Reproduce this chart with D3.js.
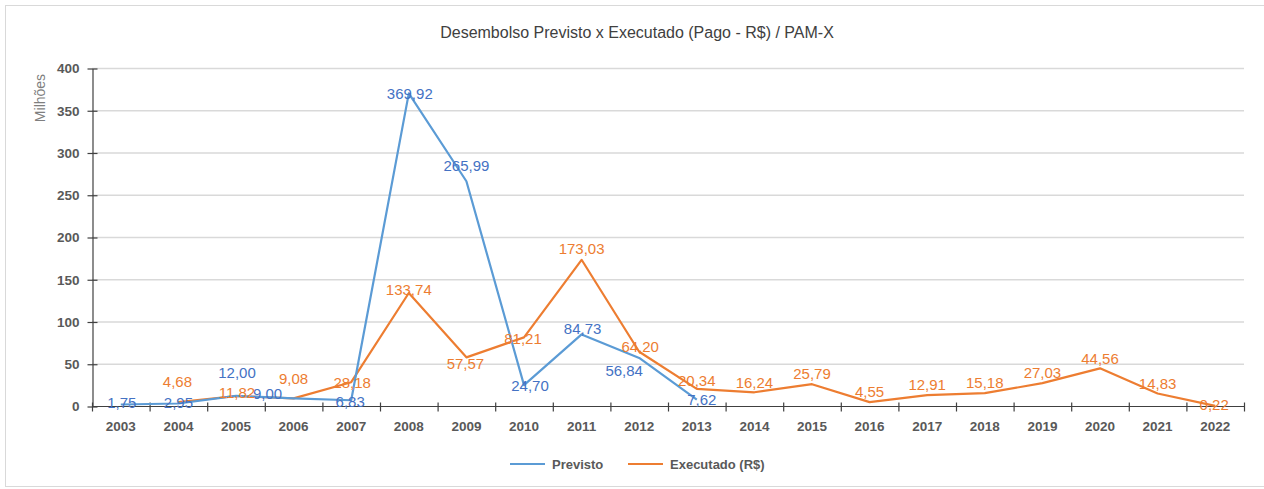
<!DOCTYPE html>
<html>
<head>
<meta charset="utf-8">
<script src="https://cdn.jsdelivr.net/npm/d3@7"></script>
<style>
  body { margin: 0; background: #fff; }
  svg { display: block; }
</style>
</head>
<body>
<svg></svg>
<script>
const years = ["2003","2004","2005","2006","2007","2008","2009","2010","2011","2012",
               "2013","2014","2015","2016","2017","2018","2019","2020","2021","2022"];
const previsto = [1.75, 2.95, 12.00, 9.00, 6.83, 369.92, 265.99, 24.70, 84.73, 56.84,
                  7.62, null, null, null, null, null, null, null, null, null];
const executado = [null, 4.68, 11.82, 9.08, 28.18, 133.74, 57.57, 81.21, 173.03, 64.20,
                   20.34, 16.24, 25.79, 4.55, 12.91, 15.18, 27.03, 44.56, 14.83, 0.22];
const yTicks = [0, 50, 100, 150, 200, 250, 300, 350, 400];
const seriesNames = ["Previsto", "Executado (R$)"];

// label nudges (dx, dy) from each point, the way they sit in the original
const previstoNudge = {
  "2003": [1, -2], "2004": [0, -1], "2005": [1, -23], "2006": [-26, -5], "2007": [-1, 2],
  "2008": [1, 0], "2009": [0, -15], "2010": [6, 1], "2011": [1, -6], "2012": [-15, 13], "2013": [5, 0]
};
const executadoNudge = {
  "2004": [-1, -20], "2005": [1, -3], "2006": [0, -20], "2007": [1, 1], "2008": [0, -3],
  "2009": [-1, 6], "2010": [-1, 1], "2011": [0, -11], "2012": [1, -5], "2013": [0, -8],
  "2022": [-1, -1]
};

const width = 1264, height = 489;
const plotLeft = 92, plotRight = 1244, plotTop = 68, plotBottom = 406;
const blue = "#5b9bd5", blueText = "#4472c4", orange = "#ed7d31";
const font = "'Liberation Sans', Arial, sans-serif";

const svg = d3.select("svg").attr("width", width).attr("height", height);

// chart frame
svg.append("rect")
  .attr("x", 5.5).attr("y", 5.5)
  .attr("width", width + 10).attr("height", 481)
  .attr("fill", "#fff")
  .attr("stroke", "#d9d9d9");

const xScale = d3.scaleBand().domain(years).range([plotLeft, plotRight]);
const yScale = d3.scaleLinear().domain([0, 400]).range([plotBottom, plotTop]);
const cx = d => xScale(d) + xScale.bandwidth() / 2;

// gridlines
svg.append("g")
  .selectAll("line")
  .data(yTicks.filter(t => t > 0))
  .enter()
  .append("line")
    .attr("x1", plotLeft).attr("x2", plotRight)
    .attr("y1", d => yScale(d) + 0.5).attr("y2", d => yScale(d) + 0.5)
    .attr("stroke", "#d9d9d9")
    .attr("stroke-width", 1.3);

// y axis
const yAxis = d3.axisLeft(yScale).tickValues(yTicks).tickSize(5).tickSizeOuter(0).tickPadding(9);
const gy = svg.append("g").attr("transform", `translate(${plotLeft + 0.5}, 0.5)`).call(yAxis);
gy.select(".domain").attr("stroke", "#404040").attr("stroke-width", 1.2);
gy.selectAll(".tick line").attr("stroke", "#404040").attr("x2", 5).attr("x1", -5).attr("stroke-width", 1.2);
gy.selectAll(".tick text")
  .attr("x", -13)
  .style("font-family", font).style("font-size", "13.5px").style("font-weight", "bold")
  .attr("fill", "#595959");

// x axis: ticks on the band boundaries, crossing the line
const gx = svg.append("g").attr("transform", `translate(0, ${plotBottom + 0.5})`);
gx.append("line").attr("x1", plotLeft).attr("x2", plotRight + 0.5).attr("stroke", "#404040").attr("stroke-width", 1.2);
gx.selectAll(".bt")
  .data(years.concat(["end"]))
  .enter()
  .append("line")
    .attr("class", "bt")
    .attr("x1", (d, i) => (i < years.length ? xScale(d) : plotRight) + 0.5)
    .attr("x2", (d, i) => (i < years.length ? xScale(d) : plotRight) + 0.5)
    .attr("y1", -4).attr("y2", 5)
    .attr("stroke", "#404040").attr("stroke-width", 1.2);
gx.selectAll(".xl")
  .data(years)
  .enter()
  .append("text")
    .attr("x", d => cx(d))
    .attr("y", 24)
    .style("text-anchor", "middle")
    .style("font-family", font).style("font-size", "13.5px").style("font-weight", "bold")
    .attr("fill", "#595959")
    .text(d => d);

// axis label
svg.append("text")
  .attr("transform", "rotate(-90)")
  .attr("x", -98).attr("y", 45)
  .style("text-anchor", "middle")
  .style("font-family", font).style("font-size", "14px")
  .attr("fill", "#7f7f7f")
  .text("Milhões");

// title
svg.append("text")
  .attr("x", 637).attr("y", 38)
  .style("text-anchor", "middle")
  .style("font-family", font)
  .style("font-size", "16px")
  .attr("fill", "#404040")
  .text("Desembolso Previsto x Executado (Pago - R$) / PAM-X");

// lines
const line = d3.line()
  .defined(d => d.v !== null)
  .x(d => cx(d.year))
  .y(d => yScale(d.v));

const prevData = years.map((y, i) => ({ year: y, v: previsto[i] }));
const execData = years.map((y, i) => ({ year: y, v: executado[i] }));

svg.append("path").datum(execData)
  .attr("d", line).attr("fill", "none")
  .attr("stroke", orange).attr("stroke-width", 2.2).attr("stroke-linejoin", "round");
svg.append("path").datum(prevData)
  .attr("d", line).attr("fill", "none")
  .attr("stroke", blue).attr("stroke-width", 2.2).attr("stroke-linejoin", "round");

const fmt = v => v.toFixed(2).replace(".", ",");

function labels(data, nudge, defaultNudge, color) {
  svg.append("g")
    .selectAll("text")
    .data(data.filter(d => d.v !== null))
    .enter()
    .append("text")
      .attr("x", d => cx(d.year) + (nudge[d.year] || defaultNudge)[0])
      .attr("y", d => yScale(d.v) + (nudge[d.year] || defaultNudge)[1])
      .attr("dy", "0.35em")
      .style("text-anchor", "middle")
      .style("font-family", font).style("font-size", "15px")
      .attr("fill", color)
      .text(d => fmt(d.v));
}
labels(prevData, previstoNudge, [0, 0], blueText);
labels(execData, executadoNudge, [0, -10], orange);

// legend
const legend = svg.append("g").attr("transform", "translate(0, 464)");
const legendItems = [
  { name: seriesNames[0], color: blue, x: 510 },
  { name: seriesNames[1], color: orange, x: 628 }
];
legendItems.forEach(it => {
  legend.append("line")
    .attr("x1", it.x).attr("x2", it.x + 35)
    .attr("y1", 0).attr("y2", 0)
    .attr("stroke", it.color).attr("stroke-width", 2.2);
  legend.append("text")
    .attr("x", it.x + 42).attr("y", 0).attr("dy", "0.35em")
    .style("font-family", font).style("font-size", "13px").style("font-weight", "bold")
    .attr("fill", "#595959")
    .text(it.name);
});
</script>
</body>
</html>
